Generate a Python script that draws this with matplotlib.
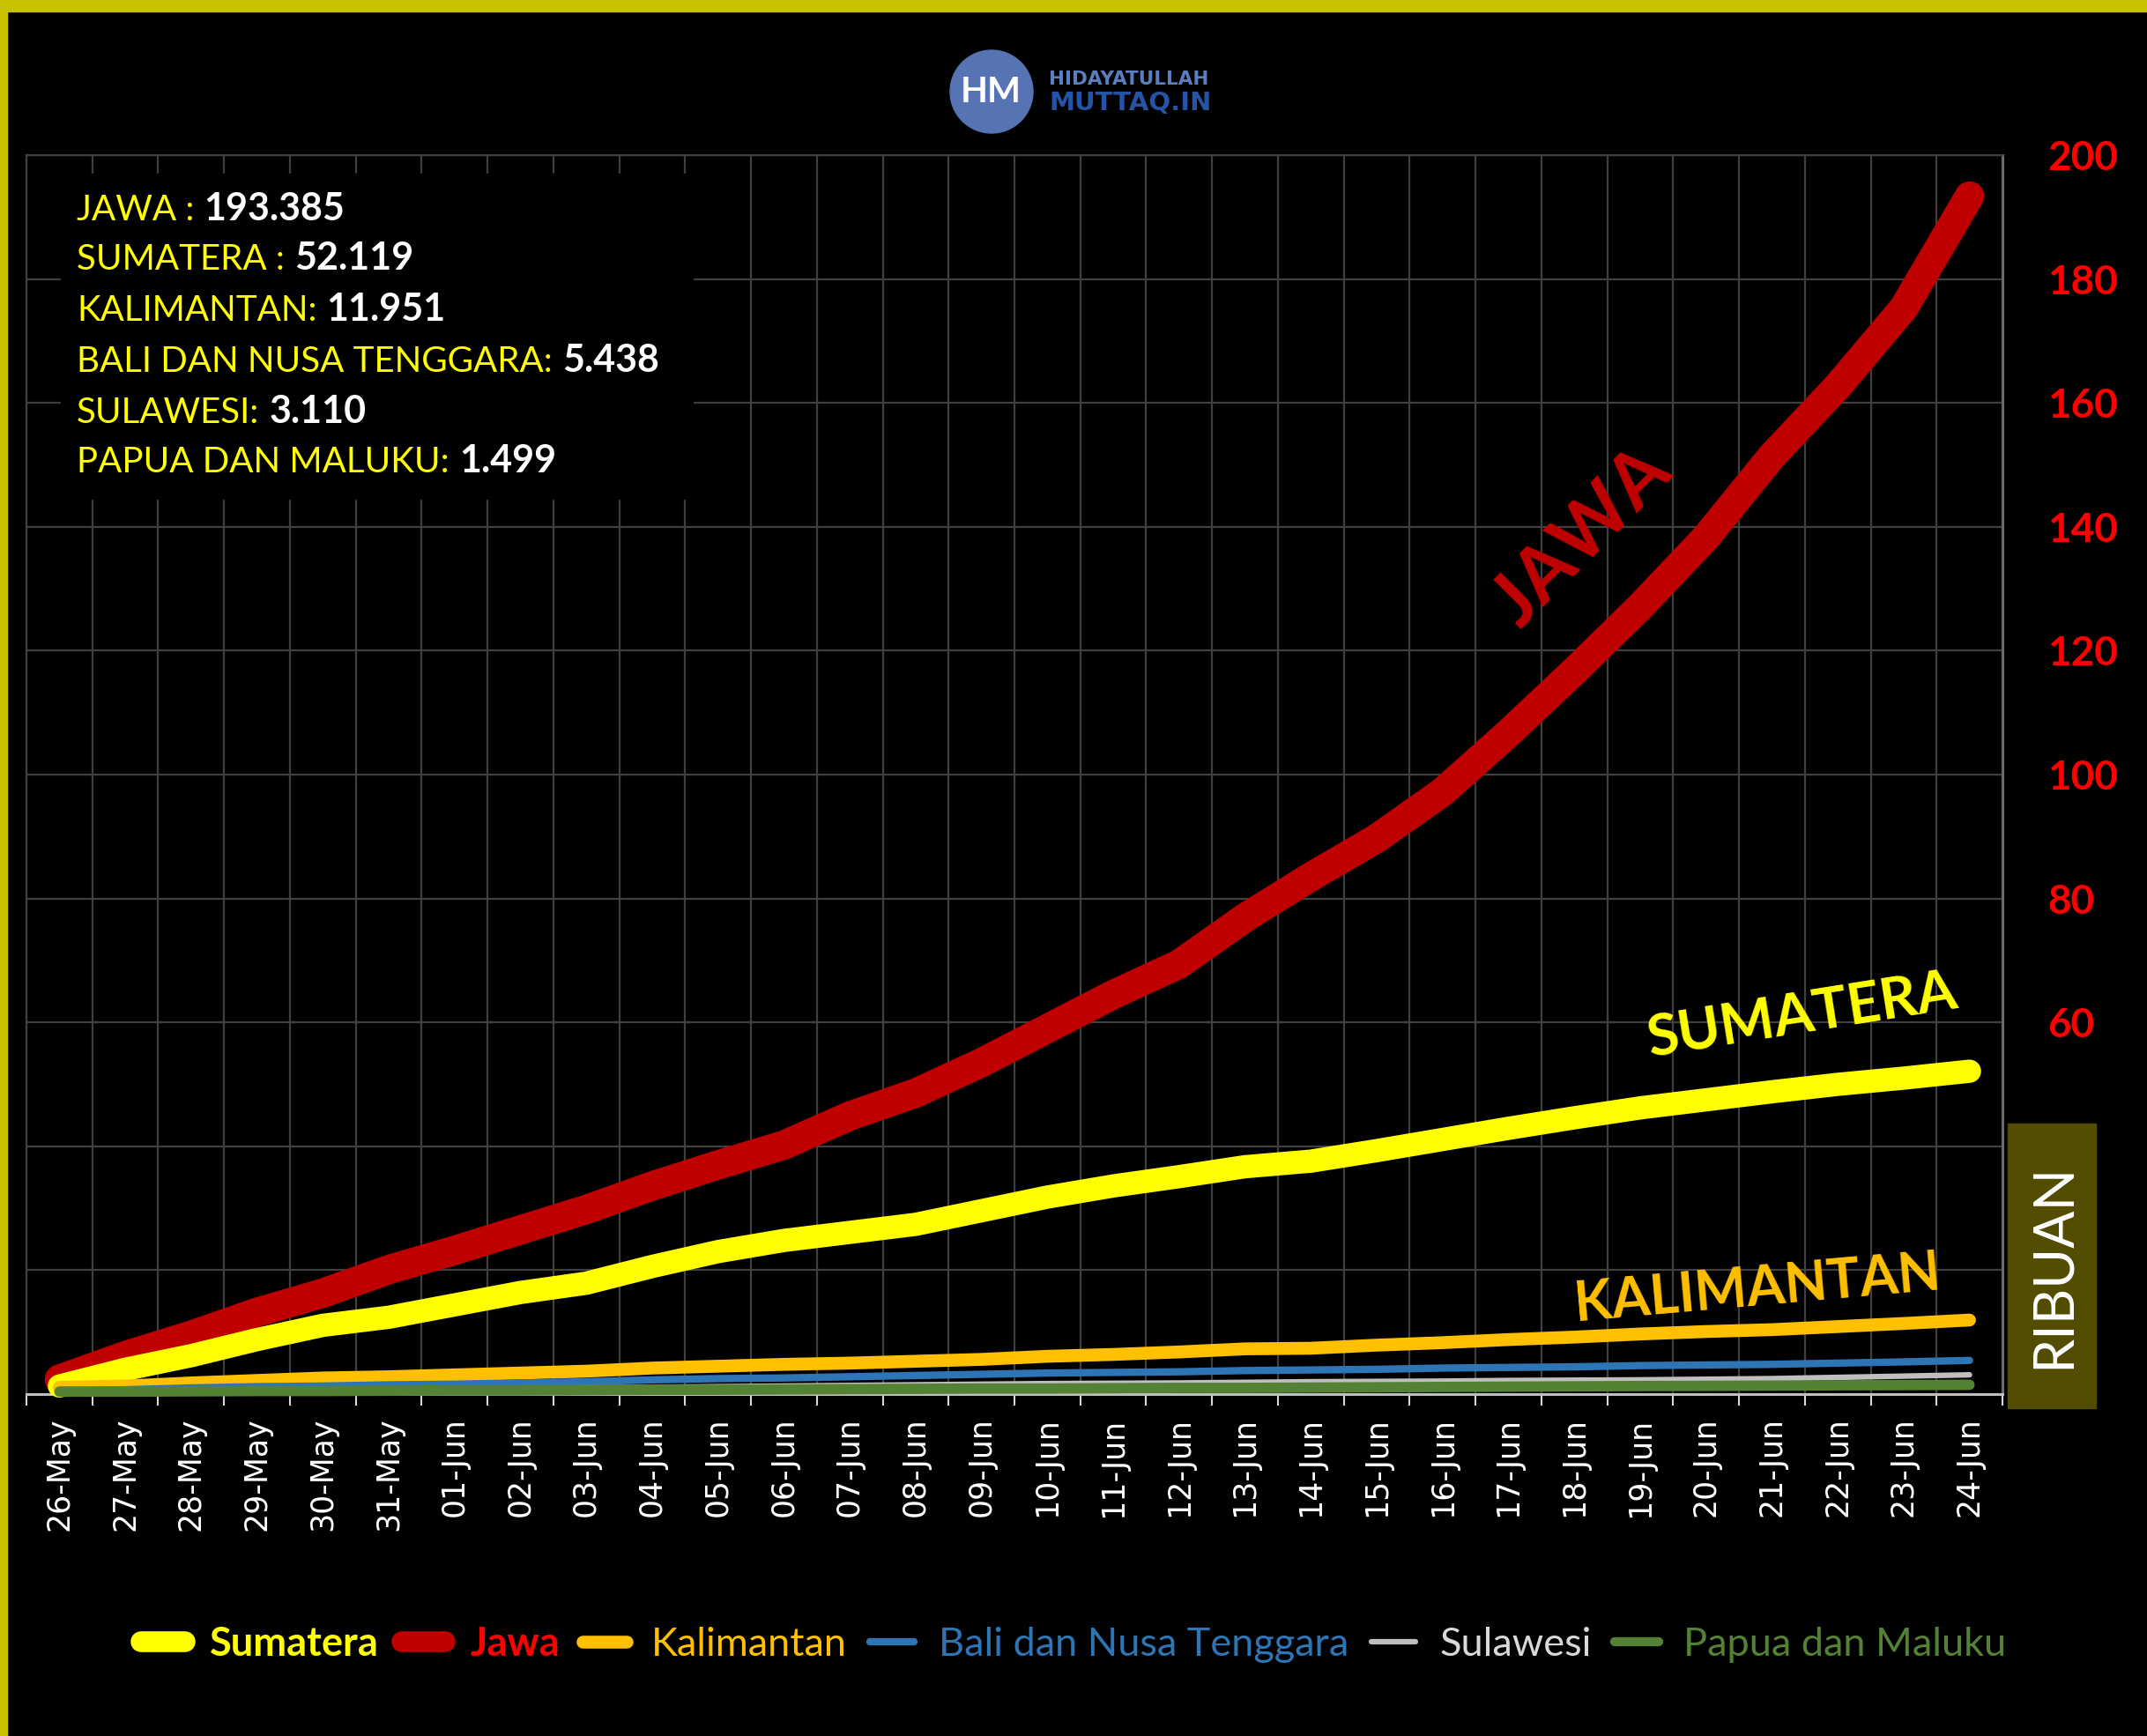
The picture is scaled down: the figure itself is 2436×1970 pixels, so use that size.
import matplotlib
matplotlib.use('Agg')
import matplotlib.pyplot as plt
from matplotlib.lines import Line2D
from matplotlib.patches import Rectangle, Circle
from matplotlib.text import Annotation
import numpy as np

# ---------------- data ----------------
dates = ['26-May', '27-May', '28-May', '29-May', '30-May', '31-May',
         '01-Jun', '02-Jun', '03-Jun', '04-Jun', '05-Jun', '06-Jun',
         '07-Jun', '08-Jun', '09-Jun', '10-Jun', '11-Jun', '12-Jun',
         '13-Jun', '14-Jun', '15-Jun', '16-Jun', '17-Jun', '18-Jun',
         '19-Jun', '20-Jun', '21-Jun', '22-Jun', '23-Jun', '24-Jun']

jawa = [2.4, 6.2, 9.5, 13.2, 16.3, 20.1, 23.2, 26.5, 29.8, 33.6,
        37.0, 40.2, 44.9, 48.6, 53.5, 59.0, 64.5, 69.4, 76.9, 83.5,
        89.7, 97.2, 106.7, 116.7, 127.1, 138.3, 151.4, 162.7, 175.3, 193.385]
sumatera = [1.3, 4.0, 6.2, 8.8, 11.1, 12.4, 14.4, 16.4, 17.9, 20.6,
            23.0, 24.8, 26.1, 27.4, 29.6, 31.8, 33.6, 35.1, 36.7, 37.6,
            39.3, 41.1, 42.9, 44.6, 46.2, 47.5, 48.8, 50.0, 51.0, 52.119]
kalimantan = [1.1, 1.3, 1.8, 2.2, 2.6, 2.8, 3.1, 3.4, 3.7, 4.2,
              4.5, 4.8, 5.0, 5.3, 5.6, 6.1, 6.4, 6.8, 7.3, 7.4,
              7.9, 8.3, 8.8, 9.2, 9.7, 10.1, 10.4, 10.9, 11.4, 11.951]
bali = [0.6, 0.7, 1.0, 1.2, 1.3, 1.5, 1.6, 1.8, 2.0, 2.3,
        2.5, 2.6, 2.8, 3.0, 3.2, 3.4, 3.5, 3.6, 3.8, 3.9,
        4.0, 4.2, 4.3, 4.4, 4.6, 4.7, 4.8, 5.0, 5.2, 5.438]
sulawesi = [0.2, 0.3, 0.4, 0.5, 0.6, 0.7, 0.8, 0.9, 1.0, 1.1,
            1.2, 1.3, 1.4, 1.5, 1.6, 1.7, 1.75, 1.8, 1.9, 2.0,
            2.05, 2.1, 2.2, 2.25, 2.3, 2.4, 2.5, 2.7, 2.9, 3.110]
papua = [0.4, 0.4, 0.45, 0.5, 0.5, 0.55, 0.6, 0.6, 0.65, 0.7,
         0.7, 0.75, 0.8, 0.85, 0.9, 0.9, 0.95, 1.0, 1.0, 1.05,
         1.1, 1.15, 1.2, 1.25, 1.3, 1.33, 1.37, 1.42, 1.46, 1.499]

legend_names = ['Sumatera', 'Jawa', 'Kalimantan', 'Bali dan Nusa Tenggara',
                'Sulawesi', 'Papua dan Maluku']
summary_labels = ['JAWA :', 'SUMATERA :', 'KALIMANTAN:', 'BALI DAN NUSA TENGGARA:',
                  'SULAWESI:', 'PAPUA DAN MALUKU:']
summary_values = ['193.385', '52.119', '11.951', '5.438', '3.110', '1.499']
ytick_vals = [0, 20, 40, 60, 80, 100, 120, 140, 160, 180, 200]
ytick_labels = ['', '', '', '60', '80', '100', '120', '140', '160', '180', '200']

# ---------------- figure ----------------
W, H = 2436, 1970
fig = plt.figure(figsize=(W / 100, H / 100), dpi=100, facecolor='black')


def fx(x):
    return x / W


def fy(y):
    return 1 - y / H


# yellow frame (top and left)
fig.patches.append(Rectangle((0, fy(13)), 1, 13 / H, transform=fig.transFigure,
                             color='#C9C200', zorder=5))
fig.patches.append(Rectangle((0, 0), 8 / W, 1, transform=fig.transFigure,
                             color='#C9C200', zorder=5))

ax = fig.add_axes([fx(30), fy(1582), (2272 - 30) / W, (1582 - 176) / H])
ax.set_facecolor('black')
x = np.arange(len(dates))

series = [
    (jawa, '#C00000', 24),
    (sumatera, '#FFFF00', 19),
    (kalimantan, '#FFC000', 10.5),
    (bali, '#2E75B6', 6),
    (sulawesi, '#BFBFBF', 4.5),
    (papua, '#548235', 8.5),
]
for i, (vals, col, lw) in enumerate(series):
    ax.plot(x, vals, color=col, lw=lw, solid_capstyle='round',
            solid_joinstyle='round', zorder=3 + i, clip_on=False)

ax.set_xlim(-0.5, 29.5)
ax.set_ylim(0, 200)

ax.set_xticks(np.arange(-0.5, 30, 1))
ax.set_xticklabels([])
ax.set_xticks(x, minor=True)
ax.set_xticklabels(dates, minor=True, rotation=90, fontsize=25, color='white',
                   family='DejaVu Sans')
ax.tick_params(axis='x', which='major', length=9.5, width=1.5, color='#D9D9D9',
               direction='out')
ax.tick_params(axis='x', which='minor', length=0, pad=19)

ax.yaxis.tick_right()
ax.set_yticks(ytick_vals)
ax.set_yticklabels(ytick_labels, fontsize=33, color='#FF0000',
                   family='Lato', fontweight='bold')
ax.tick_params(axis='y', length=0, pad=37)

ax.grid(True, which='major', color='#404040', lw=1.6)
ax.set_axisbelow(True)
for s in ['left', 'top']:
    ax.spines[s].set_color('#404040')
    ax.spines[s].set_linewidth(1.6)
ax.spines['right'].set_color('#6A6A6A')
ax.spines['right'].set_linewidth(2.2)
ax.spines['bottom'].set_color('#BFBFBF')
ax.spines['bottom'].set_linewidth(2.2)

# summary box (covers the grid)
fig.patches.append(Rectangle((fx(69), fy(566)), (786 - 69) / W, (566 - 197) / H,
                             transform=fig.transFigure, color='black', zorder=1))
ys = [238, 295, 353, 410, 468, 525]
for lab, val, yy in zip(summary_labels, summary_values, ys):
    t = fig.text(fx(87), fy(yy), lab, color='#FFFF00', fontsize=29,
                 family='Lato', va='center', ha='left', zorder=6)
    ann = Annotation(val, xy=(1, 0), xycoords=t, xytext=(8, 0),
                     textcoords='offset points', va='bottom', ha='left',
                     color='white', fontsize=31, family='Lato', fontweight='bold',
                     annotation_clip=False)
    ann.set_zorder(6)
    fig.add_artist(ann)

# logo
logo = Circle((11.25, (H - 104) / 100), 0.47, transform=fig.dpi_scale_trans,
              color='#5674B4', zorder=2)
fig.patches.append(logo)
fig.text(fx(1124), fy(104), 'HM', color='white', fontsize=29, family='Lato',
         fontweight='bold', ha='center', va='center', zorder=6)
fig.text(fx(1190), fy(90), 'HIDAYATULLAH', color='#5B7EC0', fontsize=15.5,
         family='DejaVu Sans', fontweight='bold', ha='left', va='center', zorder=6)
fig.text(fx(1190), fy(117), 'MUTTAQ.IN', color='#2553A5', fontsize=21,
         family='DejaVu Sans', fontweight='bold', ha='left', va='center', zorder=6)

# inline series labels
fig.text(fx(1795), fy(609), 'JAWA', color='#C00000', fontsize=62, family='Lato',
         fontweight='bold', rotation=45, ha='center', va='center', zorder=6)
fig.text(fx(2045), fy(1153), 'SUMATERA', color='#FFFF00', fontsize=47, family='Lato',
         fontweight='bold', rotation=9, ha='center', va='center', zorder=6)
fig.text(fx(1994), fy(1463), 'KALIMANTAN', color='#FFC000', fontsize=45, family='Lato',
         fontweight='bold', rotation=5, ha='center', va='center', zorder=6)

# RIBUAN box
fig.patches.append(Rectangle((fx(2278), fy(1598)), 100 / W, (1598 - 1275) / H,
                             transform=fig.transFigure, color='#524D00', zorder=2))
fig.text(fx(2330), fy(1436), 'RIBUAN', color='white', fontsize=45, family='Lato',
         rotation=90, ha='center', va='center', zorder=6)

# legend
leg_colors = ['#FFFF00', '#C00000', '#FFC000', '#2E75B6', '#BFBFBF', '#548235']
leg_lws = [17, 17, 10.5, 6, 4.5, 7.5]
text_colors = ['#FFFF00', '#FF0000', '#FFC000', '#2E75B6', '#D9D9D9', '#548235']
handles = [Line2D([], [], color=c, lw=l, solid_capstyle='round')
           for c, l in zip(leg_colors, leg_lws)]
leg = fig.legend(handles, legend_names, loc='center', bbox_to_anchor=(0.5, fy(1866)),
                 ncol=6, frameon=False, prop={'family': 'Lato', 'size': 32.5},
                 handlelength=1.1, handletextpad=0.62, columnspacing=0.58)
for i, (txt, c) in enumerate(zip(leg.get_texts(), text_colors)):
    txt.set_color(c)
    if i < 2:
        txt.set_fontweight('bold')

fig.savefig('out.png', dpi=100, facecolor='black')
